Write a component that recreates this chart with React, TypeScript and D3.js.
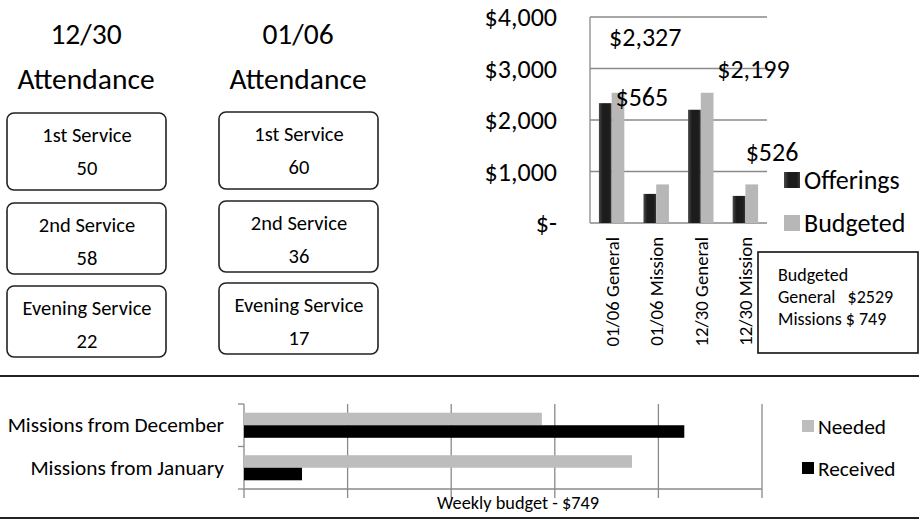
import React from "react";
import * as d3 from "d3";

// attendance cards
const attendanceDates = ["12/30", "01/06"];
const serviceNames = ["1st Service", "2nd Service", "Evening Service"];
const attendance1230 = [50, 58, 22];
const attendance0106 = [60, 36, 17];

// offerings column chart
const offeringCats = ["01/06 General", "01/06 Mission", "12/30 General", "12/30 Mission"];
const offerings = [2327, 565, 2199, 526];
const budgeted = [2529, 749, 2529, 749];
const offeringLabels = ["$2,327", "$565", "$2,199", "$526"];
const yTicks = [0, 1000, 2000, 3000, 4000];
const yTickLabels = ["$-", "$1,000", "$2,000", "$3,000", "$4,000"];
const seriesNames = ["Offerings", "Budgeted"];
const budgetNote = ["Budgeted", "General   $2529", "Missions $ 749"];

// missions bar chart
const missionCats = ["Missions from December", "Missions from January"];
const needed = [1150, 1498];
const received = [1700, 224];
const missionTicks = [0, 400, 800, 1200, 1600, 2000];
const missionSeries = ["Needed", "Received"];
const missionTitle = "Weekly budget - $749";

const W = 919;
const H = 524;
const FONT = "Carlito, Calibri, Lato, sans-serif";
const LIGHT = "#b7b7b7";
const GRID = "#8a8a8a";

// nudges for the displaced data labels (px from top of the offering bar)
const labelNudge = [
  [40, -66],
  [-8, -97],
  [59, -41],
  [33, -44],
];

function AttendanceColumn({ cx, date, values, boxX, boxTops }) {
  return (
    <g>
      <text x={cx} y={44} fontSize={29.5} textAnchor="middle">{date}</text>
      <text x={cx} y={89} fontSize={29.5} textAnchor="middle">Attendance</text>
      {serviceNames.map((name, i) => (
        <g key={name}>
          <rect x={boxX} y={boxTops[i]} width={159} height={i === 0 ? 77 : 71} rx={7}
            fill="#fff" stroke="#222" strokeWidth={1.6} />
          <text x={boxX + 80} y={boxTops[i] + 29} fontSize={20.5} textAnchor="middle">{name}</text>
          <text x={boxX + 80} y={boxTops[i] + 62} fontSize={20.5} textAnchor="middle">{values[i]}</text>
        </g>
      ))}
    </g>
  );
}

export default function App() {
  // top-right chart scales
  const y = d3.scaleLinear().domain([0, 4000]).range([223, 17]);
  const x = d3.scaleBand().domain(offeringCats).range([590, 767]).paddingInner(0.43).paddingOuter(0.2);
  const sub = d3.scaleBand().domain(seriesNames).range([0, x.bandwidth()]);

  // bottom chart scales
  const bx = d3.scaleLinear().domain([0, 2000]).range([244, 762]);
  const by = d3.scaleBand().domain(missionCats).range([404, 489]).paddingInner(0.41).paddingOuter(0.205);
  const bsub = d3.scaleBand().domain(missionSeries).range([0, by.bandwidth()]);
  const catStep = by.step();

  return (
    <div style={{ position: "absolute", left: 0, top: 0 }}>
      <svg width={W} height={H} fontFamily={FONT} style={{ display: "block", background: "#fff" }}>
        <defs>
          <linearGradient id="darkBar" x1="0" x2="1" y1="0" y2="0">
            <stop offset="0" stopColor="#4a4a4a" />
            <stop offset="0.3" stopColor="#1c1c1c" />
            <stop offset="0.8" stopColor="#1c1c1c" />
            <stop offset="1" stopColor="#3a3a3a" />
          </linearGradient>
        </defs>

        {/* attendance */}
        <AttendanceColumn cx={86} date={attendanceDates[0]} values={attendance1230} boxX={7} boxTops={[113, 203, 286]} />
        <AttendanceColumn cx={298} date={attendanceDates[1]} values={attendance0106} boxX={219} boxTops={[112, 201, 283]} />

        {/* offerings chart */}
        {yTicks.map((t, i) => (
          <g key={t}>
            {t > 0 && <line x1={590} x2={767} y1={y(t)} y2={y(t)} stroke={GRID} strokeWidth={1.3} />}
            <text x={557} y={y(t) + 9} fontSize={26} textAnchor="end">{yTickLabels[i]}</text>
          </g>
        ))}
        <line x1={590} x2={590} y1={y(4000)} y2={y(0)} stroke={GRID} strokeWidth={1.3} />
        <line x1={590} x2={767} y1={y(0)} y2={y(0)} stroke={GRID} strokeWidth={1.3} />
        {offeringCats.map((c, i) => (
          <g key={c}>
            <rect x={x(c) + sub("Offerings")} y={y(offerings[i])} width={sub.bandwidth()}
              height={y(0) - y(offerings[i])} fill="url(#darkBar)" />
            <rect x={x(c) + sub("Budgeted")} y={y(budgeted[i])} width={sub.bandwidth()}
              height={y(0) - y(budgeted[i])} fill={LIGHT} />
            <text
              x={x(c) + sub("Offerings") + sub.bandwidth() / 2 + labelNudge[i][0]}
              y={y(offerings[i]) + labelNudge[i][1] + 9}
              fontSize={26} textAnchor="middle">{offeringLabels[i]}</text>
            <text
              transform={`translate(${x(c) + x.bandwidth() / 2 + 7},237) rotate(-90)`}
              fontSize={18.8} textAnchor="end">{c}</text>
          </g>
        ))}
        {seriesNames.map((s, i) => (
          <g key={s}>
            <rect x={784} y={172 + i * 43} width={16} height={16} fill={i === 0 ? "url(#darkBar)" : LIGHT} />
            <text x={804} y={189 + i * 43} fontSize={26}>{s}</text>
          </g>
        ))}
        <rect x={758} y={252} width={160} height={101} fill="#fff" stroke="#111" strokeWidth={1.6} />
        {budgetNote.map((l, i) => (
          <text key={l} x={778} y={281 + i * 22} fontSize={18} xmlSpace="preserve" style={{ whiteSpace: "pre" }}>{l}</text>
        ))}

        {/* separators */}
        <line x1={0} x2={W} y1={376} y2={376} stroke="#222" strokeWidth={2} />
        <line x1={0} x2={W} y1={518} y2={518} stroke="#222" strokeWidth={2} />

        {/* missions chart */}
        {missionTicks.map((t) => (
          <line key={t} x1={bx(t)} x2={bx(t)} y1={404} y2={498} stroke={GRID} strokeWidth={1.3} />
        ))}
        <line x1={bx(0)} x2={bx(2000)} y1={489} y2={489} stroke={GRID} strokeWidth={1.3} />
        {[0, 1, 2].map((k) => (
          <line key={k} x1={238} x2={244} y1={404 + k * catStep} y2={404 + k * catStep} stroke={GRID} strokeWidth={1.3} />
        ))}
        {missionCats.map((c, i) => (
          <g key={c}>
            <rect x={bx(0)} y={by(c) + bsub("Needed")} width={bx(needed[i]) - bx(0)} height={bsub.bandwidth()} fill="#bdbdbd" />
            <rect x={bx(0)} y={by(c) + bsub("Received")} width={bx(received[i]) - bx(0)} height={bsub.bandwidth()} fill="#000" />
            <text x={224} y={by(c) + by.bandwidth() / 2 + 7} fontSize={21.3} textAnchor="end">{c}</text>
          </g>
        ))}
        <text x={437} y={509} fontSize={18.3}>{missionTitle}</text>
        {missionSeries.map((s, i) => (
          <g key={s}>
            <rect x={802} y={420 + i * 42} width={12} height={12} fill={i === 0 ? "#bdbdbd" : "#000"} />
            <text x={818} y={434 + i * 42} fontSize={21.3}>{s}</text>
          </g>
        ))}
      </svg>
    </div>
  );
}
